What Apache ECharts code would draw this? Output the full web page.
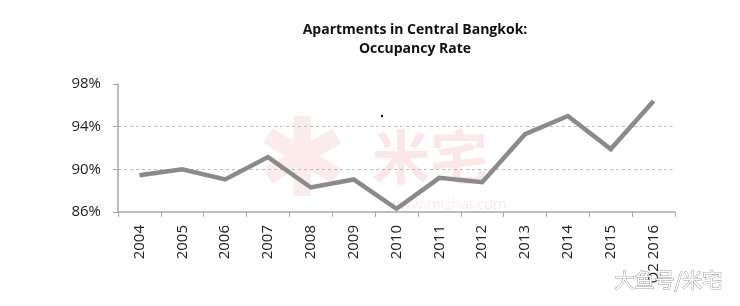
<!DOCTYPE html>
<html>
<head>
<meta charset="utf-8">
<script src="https://cdn.jsdelivr.net/npm/echarts@6/dist/echarts.min.js"></script>
<style>html,body{margin:0;padding:0;background:#fff}#c{width:740px;height:306px}</style>
</head>
<body>
<div id="c"></div>
<script>
const categories = ['2004','2005','2006','2007','2008','2009','2010','2011','2012','2013','2014','2015','Q2 2016'];
const occupancy = [89.45, 90.0, 89.05, 91.15, 88.3, 89.05, 86.3, 89.2, 88.8, 93.3, 95.0, 91.9, 96.4];
const yTicks = [86, 90, 94, 98];
const titleLines = ['Apartments in Central Bangkok:', 'Occupancy Rate'];

const chart = echarts.init(document.getElementById('c'), null, {renderer: 'canvas'});
chart.setOption({
  animation: false,
  backgroundColor: '#fff',
  title: {
    text: titleLines.join('\n'),
    left: 410, top: 16, textAlign: 'center',
    textStyle: {fontFamily: 'Open Sans', fontWeight: 'bold', fontSize: 14, lineHeight: 19, color: '#111'}
  },
  grid: {left: 118, right: 65, top: 84, bottom: 94},
  xAxis: {
    type: 'category', data: categories, boundaryGap: true,
    axisLine: {lineStyle: {color: '#a8a8a8', width: 1.5}},
    axisTick: {show: true, length: 5, lineStyle: {color: '#a8a8a8'}},
    axisLabel: {rotate: 90, margin: 13, fontFamily: 'Open Sans', fontSize: 15, color: '#222', interval: 0}
  },
  yAxis: {
    type: 'value', min: yTicks[0], max: yTicks[yTicks.length - 1], interval: 4,
    axisLine: {show: true, lineStyle: {color: '#a8a8a8', width: 1.5}},
    axisTick: {show: true, length: 5, lineStyle: {color: '#a8a8a8'}},
    splitLine: {show: true, lineStyle: {color: ['rgba(0,0,0,0)', '#bdbdbd', '#bdbdbd', 'rgba(0,0,0,0)'], type: [3, 3], width: 1}},
    axisLabel: {margin: 17, fontFamily: 'Open Sans', fontSize: 15, color: '#222', formatter: v => v + '%'}
  },
  series: [{
    type: 'line', data: occupancy, symbol: 'none',
    lineStyle: {color: '#8a8a8a', width: 4.5, join: 'miter'}
  }],
  graphic: [
    {type: 'text', left: 372, top: 128, silent: true, z: -1,
     style: {text: '米宅', font: 'bold 58px "Noto Sans CJK SC"', fill: 'rgba(235,120,120,0.18)'}},
    {type: 'text', left: 388, top: 197, silent: true, z: -1,
     style: {text: 'www.mizhai.com', font: '15px "Open Sans"', fill: 'rgba(235,120,120,0.18)'}},
    {type: 'text', left: 256, top: 112, silent: true, z: -1,
     style: {text: '✱', font: 'bold 110px "DejaVu Sans"', fill: 'rgba(235,120,120,0.15)'}},
    {type: 'text', left: 614, top: 270, silent: true, z: 10,
     style: {text: '大鱼号/米宅', font: '20px "Noto Sans CJK SC"', fill: '#ffffff', stroke: '#9a9a9a', lineWidth: 1}},
    {type: 'circle', shape: {cx: 382, cy: 116, r: 1.2}, style: {fill: '#111'}}
  ]
});
</script>
</body>
</html>
